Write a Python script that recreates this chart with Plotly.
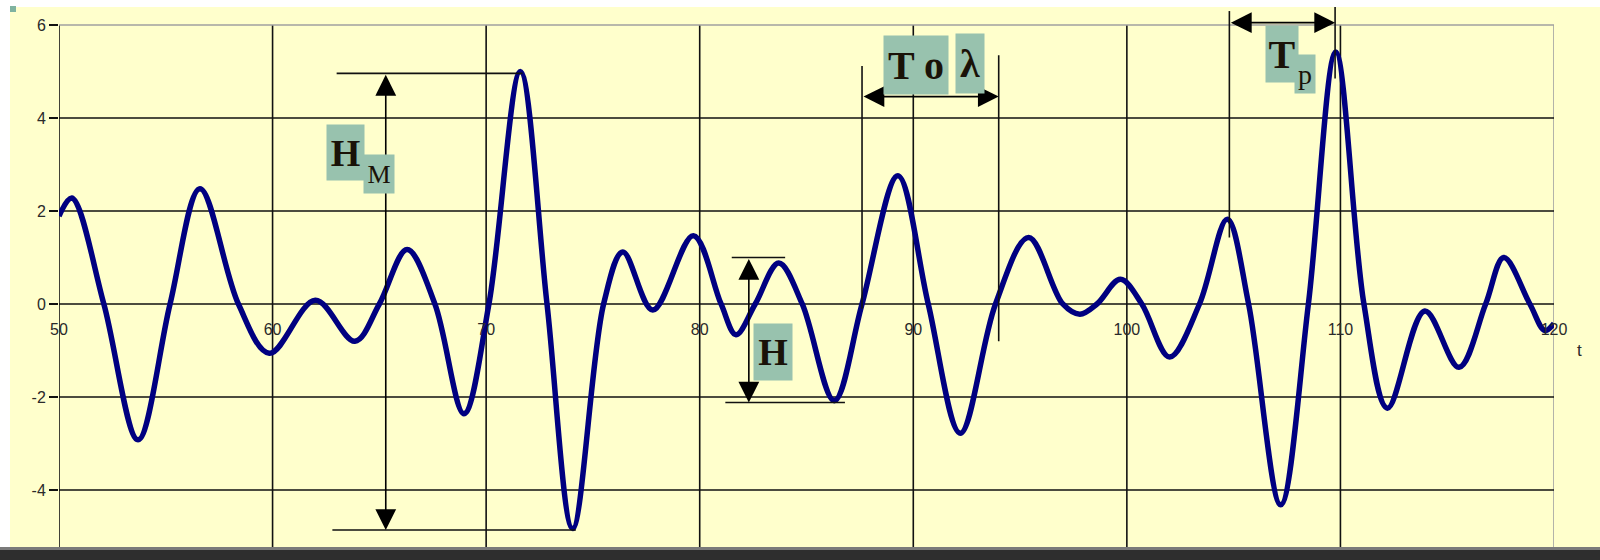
import plotly.graph_objects as go

# ---------------- data ----------------
t_vals = [50.0, 50.6, 52.1, 53.7, 55.2, 56.6, 58.4, 59.85, 62.0, 63.85, 65.0, 66.3, 67.6,
          68.96, 70.13, 71.6, 72.85, 74.05, 75.5, 76.4, 77.8, 79.7, 81.0, 81.7, 82.6,
          83.7, 84.8, 86.3, 87.6, 89.28, 90.7, 92.2, 93.85, 95.4, 97.0, 97.8, 98.6,
          99.7, 100.7, 102.0, 103.4, 104.7, 105.7, 107.2, 108.5, 109.78, 111.1, 112.2,
          113.95, 115.55, 116.8, 117.65, 118.87, 119.57, 120.0]
wave = [1.89, 2.28, 0.0, -2.92, 0.0, 2.48, 0.0, -1.06, 0.08, -0.8, 0.0, 1.17, 0.0,
        -2.36, 0.0, 5.0, 0.0, -4.83, 0.0, 1.12, -0.13, 1.47, 0.0, -0.66, 0.0,
        0.88, 0.0, -2.08, 0.0, 2.76, 0.0, -2.78, 0.0, 1.43, 0.0, -0.22, 0.0,
        0.53, 0.0, -1.14, 0.0, 1.82, 0.0, -4.32, 0.0, 5.42, 0.0, -2.24,
        -0.15, -1.36, 0.0, 1.0, 0.0, -0.57, -0.42]

x_ticks = [50, 60, 70, 80, 90, 100, 110, 120]
y_ticks = [-4, -2, 0, 2, 4, 6]

# ---------------- layout geometry ----------------
W, H = 1600, 560
ML, MR, MT, MB = 59, 46, 7, 13
Y_MIN, Y_MAX = -5.226, 6.387
PW, PH = W - ML - MR, H - MT - MB


def px(xp):
    return (xp - ML) / PW


def py(yp):
    return (H - MB - yp) / PH


fig = go.Figure()
fig.add_trace(go.Scatter(x=t_vals, y=wave, mode="lines",
                         line=dict(color="#000080", width=5.5, shape="spline", smoothing=1.0),
                         hoverinfo="skip", showlegend=False))

shapes = []
# page background and frame
shapes.append(dict(type="rect", xref="paper", yref="paper", x0=px(10), x1=px(1600),
                   y0=py(547), y1=py(7), fillcolor="#FFFFCC", line_width=0, layer="below"))
shapes.append(dict(type="rect", xref="paper", yref="paper", x0=px(0), x1=px(1600),
                   y0=py(560), y1=py(547), fillcolor="#2e2e2e", line_width=0, layer="above"))
shapes.append(dict(type="rect", xref="paper", yref="paper", x0=px(0), x1=px(1600),
                   y0=py(550), y1=py(547), fillcolor="#7a7a7a", line_width=0, layer="above"))
shapes.append(dict(type="rect", xref="paper", yref="paper", x0=px(10), x1=px(16),
                   y0=py(12), y1=py(6), fillcolor="#7fb3a0", line_width=0, layer="above"))

# grid
for xv in x_ticks:
    col = "#a0a0a0" if xv == x_ticks[-1] else "#111111"
    shapes.append(dict(type="line", xref="x", yref="y", x0=xv, x1=xv, y0=Y_MIN, y1=y_ticks[-1],
                       line=dict(color=col, width=1.6), layer="below"))
for yv in y_ticks:
    col = "#a0a0a0" if yv == y_ticks[-1] else "#111111"
    shapes.append(dict(type="line", xref="x", yref="y", x0=x_ticks[0], x1=x_ticks[-1], y0=yv, y1=yv,
                       line=dict(color=col, width=1.6), layer="below"))

# annotation guide lines
guide_lines = [
    # H_M
    (63.0, 4.96, 71.7, 4.96),
    (62.8, -4.86, 74.2, -4.86),
    # H
    (81.5, 1.0, 84.0, 1.0),
    (81.2, -2.12, 86.8, -2.12),
    # T o lambda
    (87.6, 5.12, 87.6, -0.1),
    (94.0, 5.35, 94.0, -0.8),
    # Tp
    (104.8, 6.3, 104.8, 1.43),
    (109.75, 6.387, 109.75, 4.85),
]
for x0, y0, x1, y1 in guide_lines:
    shapes.append(dict(type="line", xref="x", yref="y", x0=x0, y0=y0, x1=x1, y1=y1,
                       line=dict(color="#111111", width=1.6), layer="above"))

annotations = []
# double arrows
arrows = [
    (65.3, 4.96, 65.3, -4.86),
    (82.3, 1.0, 82.3, -2.12),
    (87.6, 4.46, 94.0, 4.46),
    (104.8, 6.05, 109.75, 6.05),
]
for x0, y0, x1, y1 in arrows:
    annotations.append(dict(x=x1, y=y1, ax=x0, ay=y0, xref="x", yref="y", axref="x", ayref="y",
                            text="", showarrow=True, arrowhead=2, startarrowhead=2,
                            arrowside="end+start", arrowsize=2.6, startarrowsize=2.6,
                            arrowwidth=1.6, arrowcolor="#000000", standoff=0, startstandoff=0))

BOX = "#98C2AE"
SERIF = "Liberation Serif"
labels = [
    ("<b>H</b>", 63.4, 3.26, 38, 37, 55),
    ("M", 65.0, 2.8, 26, 30, 38),
    ("<b>H</b>", 83.43, -1.04, 38, 38, 56),
    ("<b>T o</b>", 90.12, 5.15, 40, 64, 58),
    ("<b>λ</b>", 92.65, 5.17, 40, 28, 59),
    ("<b>T</b>", 107.25, 5.37, 40, 32, 56),
    ("p", 108.33, 4.95, 28, 20, 38),
]
for txt, xv, yv, fs, bw, bh in labels:
    annotations.append(dict(x=xv, y=yv, xref="x", yref="y", text=txt, showarrow=False,
                            font=dict(family=SERIF, size=fs, color="#1a1208"),
                            bgcolor=BOX, width=bw, height=bh, borderpad=0,
                            xanchor="center", yanchor="middle", valign="middle"))

annotations.append(dict(x=px(1579), y=py(350), xref="paper", yref="paper", text="t",
                        showarrow=False, font=dict(family="Liberation Sans", size=17, color="#2a2a2a"),
                        xanchor="center", yanchor="middle"))

zero_pos = (0 - Y_MIN) / (Y_MAX - Y_MIN)

fig.update_layout(
    width=W, height=H, autosize=False,
    margin=dict(l=ML, r=MR, t=MT, b=MB),
    paper_bgcolor="white", plot_bgcolor="#FFFFCC",
    shapes=shapes, annotations=annotations, showlegend=False,
    xaxis=dict(range=[x_ticks[0], x_ticks[-1]], tickvals=x_ticks, ticktext=[str(v) for v in x_ticks],
               anchor="free", position=zero_pos, showgrid=False, zeroline=False, showline=False,
               ticks="", ticklabelstandoff=14,
               tickfont=dict(family="Liberation Sans", size=16, color="#2a2a2a")),
    yaxis=dict(range=[Y_MIN, Y_MAX], tickvals=y_ticks, ticktext=[str(v) for v in y_ticks],
               showgrid=False, zeroline=False, showline=False,
               ticks="outside", ticklen=9, tickwidth=1.6, tickcolor="#111111",
               tickfont=dict(family="Liberation Sans", size=16, color="#2a2a2a")),
)

fig.write_html("out.html", config={"displayModeBar": False},
               post_script="document.body.style.margin='0px';document.body.style.overflow='hidden';")
